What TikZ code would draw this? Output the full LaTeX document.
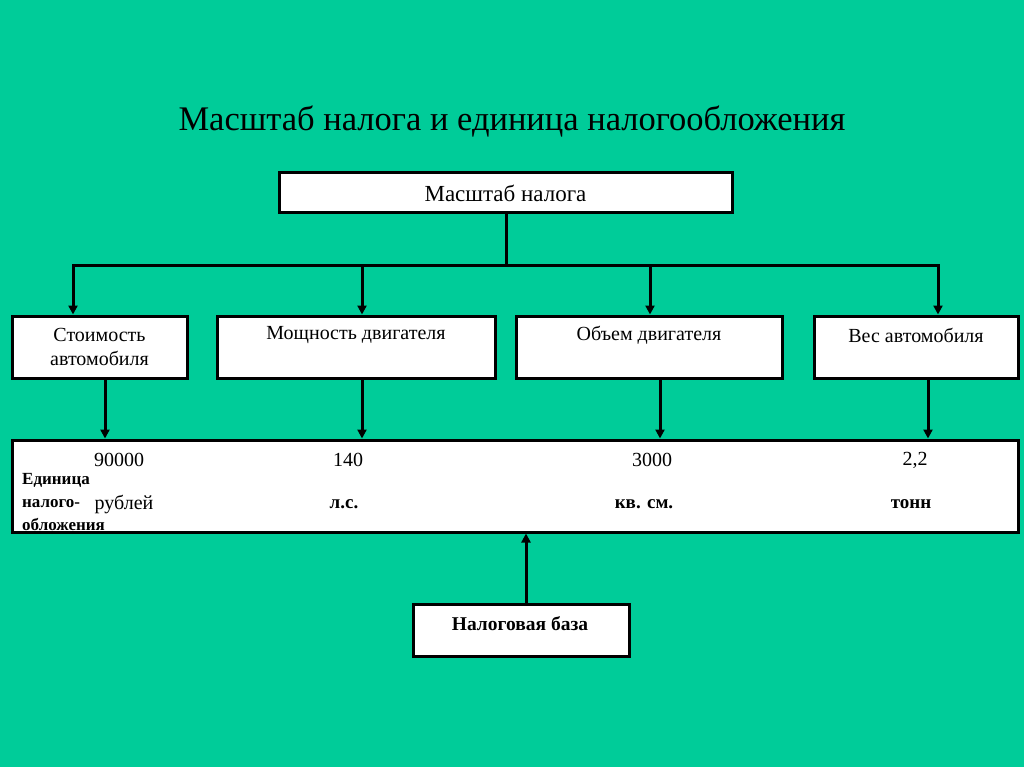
\documentclass[tikz,border=0pt]{standalone}
\usepackage{fontspec}
\setmainfont{Liberation Serif}
\usetikzlibrary{arrows.meta}
\definecolor{bgc}{RGB}{0,204,153}
\begin{document}
\begin{tikzpicture}[x=1pt,y=-1pt,
  box/.style={draw=black,fill=white,line width=3pt,inner sep=0pt},
  txt/.style={inner sep=0pt,font=\fontsize{20}{24}\selectfont},
  btxt/.style={inner sep=0pt,font=\fontsize{19}{22}\selectfont\bfseries},
  ltxt/.style={inner sep=0pt,anchor=west,font=\fontsize{17}{20}\selectfont\bfseries},
  conn/.style={line width=3pt},
  arr/.style={line width=3pt,-{Triangle[length=9pt,width=9pt]}}]
\fill[bgc] (0,0) rectangle (1024,767);
\useasboundingbox (0,0) rectangle (1024,767);
% title
\node[inner sep=0pt,font=\fontsize{34.5}{40}\selectfont] (title) at (512,121) {Масштаб налога и единица налогообложения};
% top box
\node[box,minimum width=453pt,minimum height=40pt] (top) at (505.5,193) {};
\node[txt,font=\fontsize{23}{26}\selectfont] (toptxt) at (top.center) {Масштаб налога};
% level 2 boxes
\node[box,minimum width=175pt,minimum height=62pt] (b1) at (99.5,347) {};
\node[box,minimum width=278pt,minimum height=62pt] (b2) at (356,347) {};
\node[box,minimum width=266pt,minimum height=62pt] (b3) at (649,347) {};
\node[box,minimum width=204pt,minimum height=62pt] (b4) at (916,347) {};
\node[txt,align=center] (t1) at (99.5,347) {Стоимость\\автомобиля};
\node[txt] (t2) at (356,335) {Мощность двигателя};
\node[txt] (t3) at (649,335) {Объем двигателя};
\node[txt] (t4) at (916,335) {Вес автомобиля};
% big box
\node[box,minimum width=1006pt,minimum height=92pt] (big) at (515,486) {};
\node[txt] (v1) at (119,460) {90000};
\node[txt] (v2) at (348,460) {140};
\node[txt] (v3) at (652,460) {3000};
\node[txt] (v4) at (915,460) {2,2};
\node[txt] (u1) at (124,504) {рублей};
\node[btxt] (u2) at (344,504) {л.с.};
\node[btxt] (u3) at (644,504) {кв. см.};
\node[btxt] (u4) at (911,504) {тонн};
\node[ltxt] (l1) at (22,480) {Единица};
\node[ltxt] (l2) at (22,504) {налого-};
\node[ltxt] (l3) at (22,524) {обложения};
% bottom box
\node[box,minimum width=216pt,minimum height=52pt] (base) at (521,630) {};
\node[btxt,font=\fontsize{19.5}{22}\selectfont\bfseries] (basetxt) at (520,624) {Налоговая база};
% connectors
\coordinate (j) at (506,265);
\coordinate (a1) at (73,265);
\coordinate (a2) at (362,265);
\coordinate (a3) at (650,265);
\coordinate (a4) at (938,265);
\draw[conn] (top.south -| j) -- (j);
\draw[conn,line cap=rect] (a1) -- (a4);
\draw[arr] (a1) -- (a1 |- b1.north);
\draw[arr] (a2) -- (a2 |- b2.north);
\draw[arr] (a3) -- (a3 |- b3.north);
\draw[arr] (a4) -- (a4 |- b4.north);
\coordinate (c1) at (105,378);
\coordinate (c2) at (362,378);
\coordinate (c3) at (660,378);
\coordinate (c4) at (928,378);
\draw[arr] (c1) -- (c1 |- big.north);
\draw[arr] (c2) -- (c2 |- big.north);
\draw[arr] (c3) -- (c3 |- big.north);
\draw[arr] (c4) -- (c4 |- big.north);
\coordinate (d) at (526,604);
\draw[arr] (d) -- (d |- big.south);
\end{tikzpicture}
\end{document}
